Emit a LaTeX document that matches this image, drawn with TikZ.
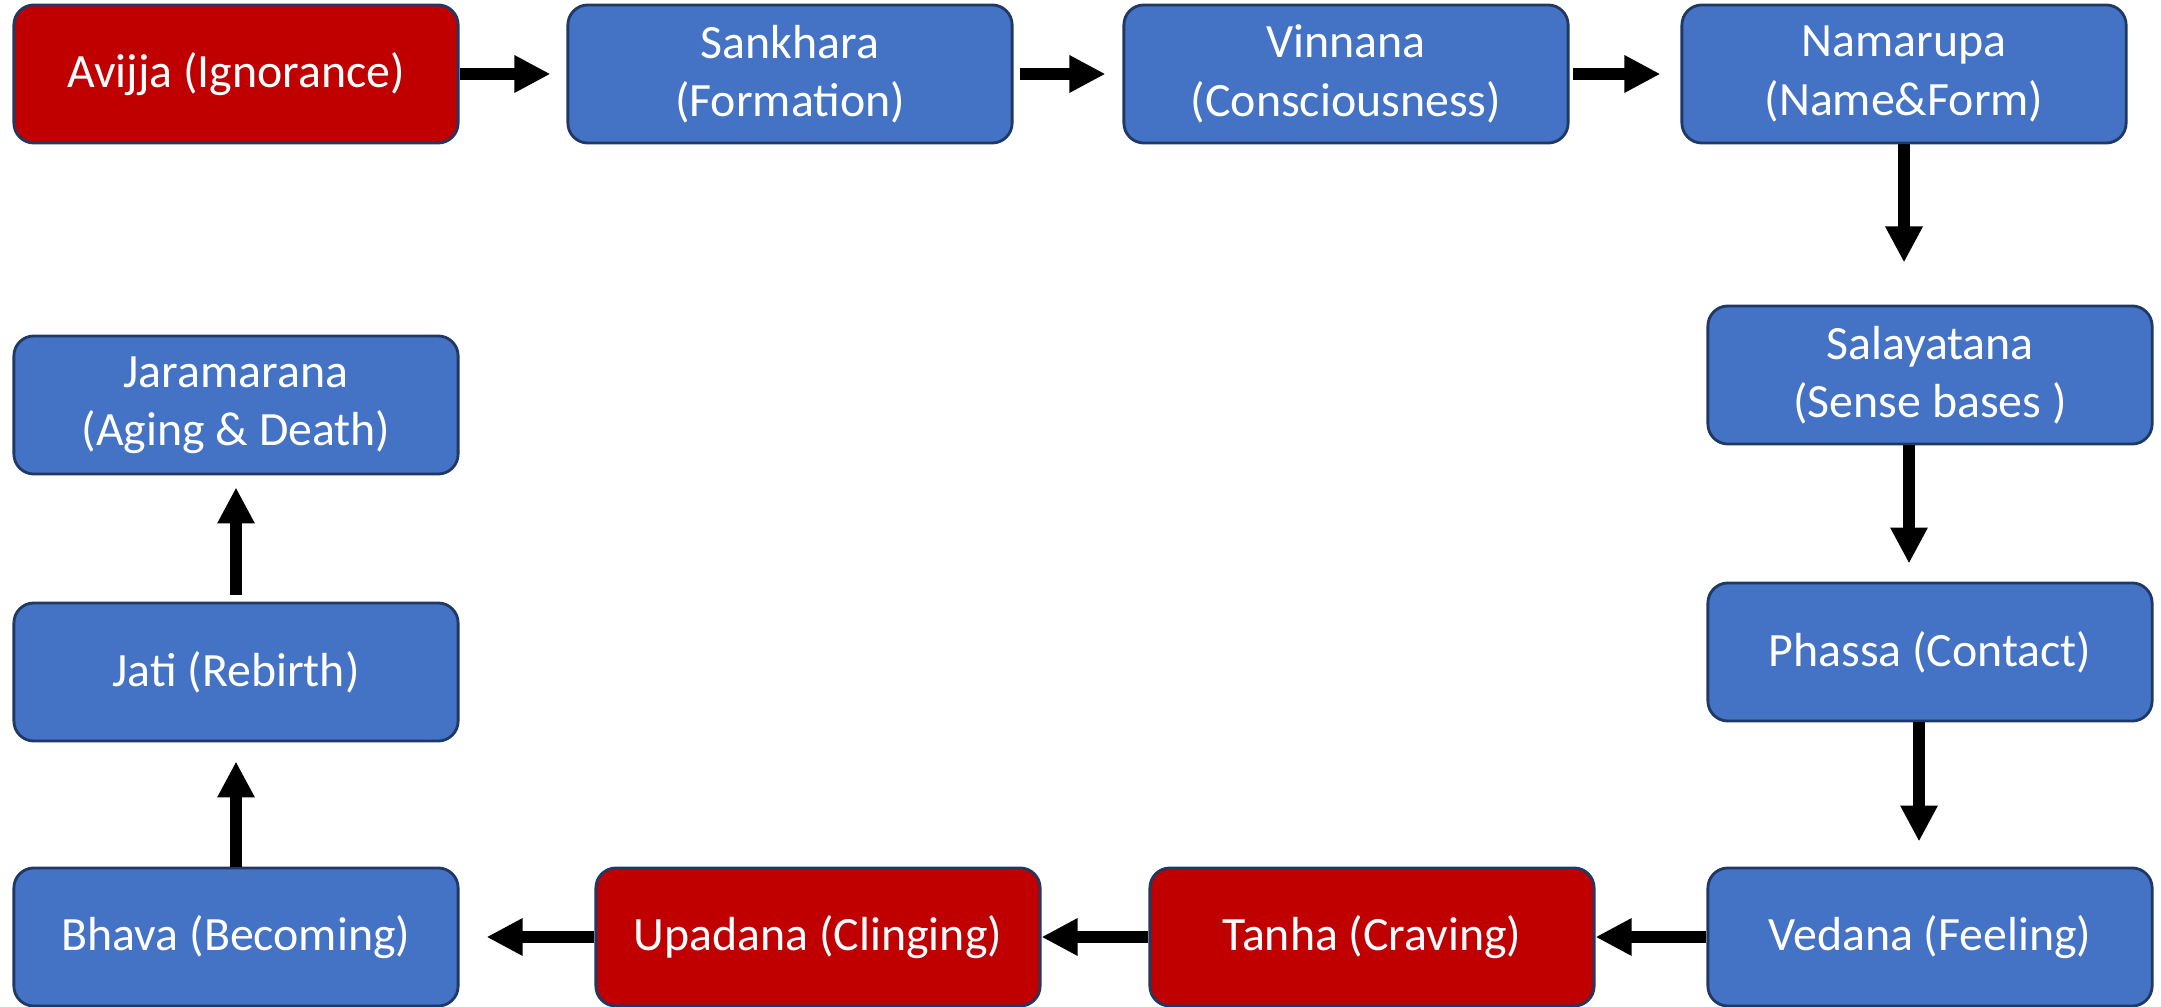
\documentclass[tikz,border=0pt]{standalone}
\usepackage{fontspec}
\setmainfont{Carlito}
\usetikzlibrary{arrows.meta,calc}
\definecolor{bx}{HTML}{4472C4}
\definecolor{rd}{HTML}{C00000}
\definecolor{ol}{HTML}{1F3864}
\begin{document}
\begin{tikzpicture}[x=0.01cm,y=-0.01cm,
  box/.style={draw=ol, line width=0.8pt, rounded corners=0.2cm, minimum width=4.44cm, minimum height=1.38cm, inner sep=0pt, align=center, text=white, font=\fontsize{13.6}{16.6}\selectfont},
  bbox/.style={box, fill=bx},
  rbox/.style={box, fill=rd},
  arr/.style={line width=0.12cm, -{Triangle[length=0.36cm,width=0.35cm]}}]
\useasboundingbox (0,0) rectangle (2161,1007);
\node[rbox] (avi) at (236,74) {Avijja (Ignorance)};
\node[bbox] (san) at (790,74) {Sankhara\\(Formation)};
\node[bbox] (vin) at (1346,74) {Vinnana\\(Consciousness)};
\node[bbox] (nam) at (1904,74) {Namarupa\\(Name\&Form)};
\node[bbox] (sal) at (1930,375) {Salayatana\\(Sense bases )};
\node[bbox] (pha) at (1930,652) {Phassa (Contact)};
\node[bbox] (ved) at (1930,937) {Vedana (Feeling)};
\node[rbox] (tan) at (1372,937) {Tanha (Craving)};
\node[rbox] (upa) at (818,937) {Upadana (Clinging)};
\node[bbox] (bha) at (236,937) {Bhava (Becoming)};
\node[bbox] (jat) at (236,672) {Jati (Rebirth)};
\node[bbox] (jar) at (236,405) {Jaramarana\\(Aging \& Death)};
\draw[arr, shorten >=0.16cm] (avi) -- (san);
\draw[arr, shorten <=0.06cm, shorten >=0.17cm] (san) -- (vin);
\draw[arr, shorten <=0.03cm, shorten >=0.2cm] (vin) -- (nam);
\draw[arr, shorten >=0.42cm] (nam.south) -- (nam.south |- sal.north);
\draw[arr, shorten >=0.18cm] ($(sal.south)+(-21,0)$) -- ($(pha.north)+(-21,0)$);
\draw[arr, shorten >=0.25cm] ($(pha.south)+(-11,0)$) -- ($(ved.north)+(-11,0)$);
\draw[arr] (ved) -- (tan);
\draw[arr] (tan) -- (upa);
\draw[arr, shorten >=0.27cm] (upa) -- (bha);
\draw[arr, shorten >=0.19cm] (bha) -- (jat);
\draw[arr, shorten <=0.07cm, shorten >=0.12cm] (jat) -- (jar);
\end{tikzpicture}
\end{document}
